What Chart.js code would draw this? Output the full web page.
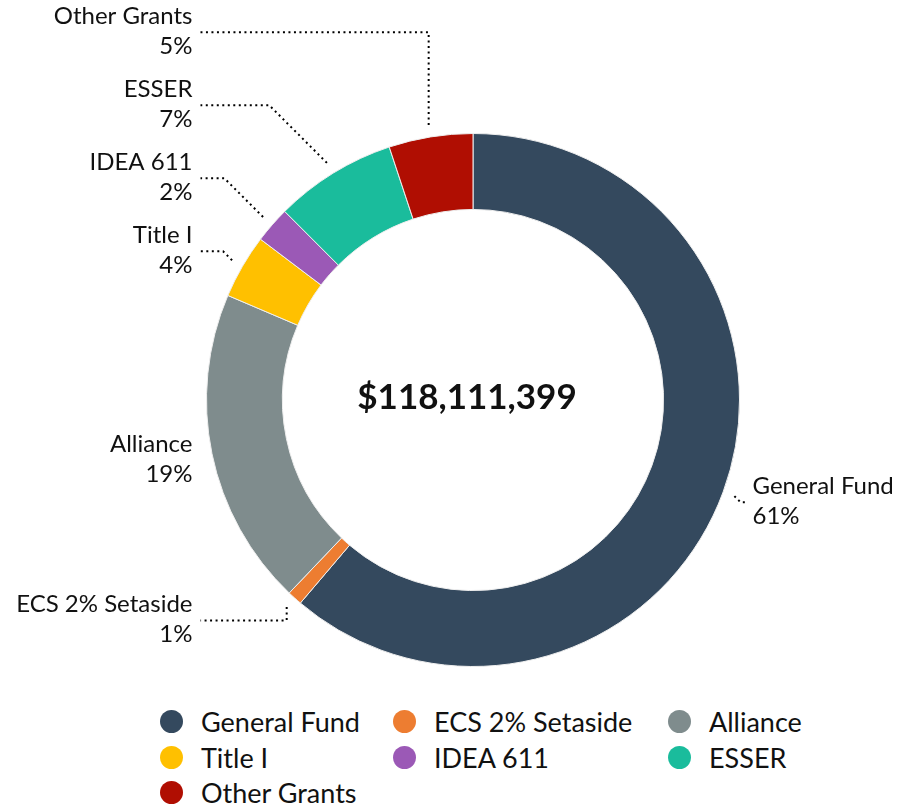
<!DOCTYPE html>
<html>
<head>
<meta charset="utf-8">
<script src="https://cdn.jsdelivr.net/npm/chart.js@4.4.0/dist/chart.umd.min.js"></script>
<style>
  body { margin: 0; background: #fff; font-family: Lato, sans-serif; }
  #wrap { position: relative; width: 899px; height: 690px; }
  #legend { position: absolute; left: 160px; top: 704px; display: grid; grid-template-columns: 233px 275px auto; }
  .item { display: flex; align-items: center; height: 35.5px; font-size: 27px; color: #111; white-space: nowrap; }
  .dot { width: 23px; height: 23px; border-radius: 50%; margin-right: 18px; flex: none; }
</style>
</head>
<body>
<div id="wrap"><canvas id="myChart"></canvas></div>
<div id="legend"></div>
<script>
var labels = ['General Fund', 'ECS 2% Setaside', 'Alliance', 'Title I', 'IDEA 611', 'ESSER', 'Other Grants'];
var amounts = [72301399, 1060000, 22800000, 4600000, 2600000, 8740000, 6010000];
var colors = ['#34495e', '#ed7d31', '#7f8c8d', '#ffc000', '#9b59b6', '#1abc9c', '#b00e02'];

var total = amounts.reduce(function(a, b) { return a + b; }, 0);

// legend as a grid so the columns line up
var legendBox = document.getElementById('legend');
labels.forEach(function(name, i) {
  var item = document.createElement('div');
  item.className = 'item';
  item.innerHTML = '<span class="dot" style="background:' + colors[i] + '"></span>' + name;
  legendBox.appendChild(item);
});

var centerText = {
  id: 'centerText',
  afterDraw: function(chart) {
    var arc = chart.getDatasetMeta(0).data[0];
    var ctx = chart.ctx;
    ctx.save();
    ctx.font = 'bold 35px Lato';
    ctx.fillStyle = '#111';
    ctx.textAlign = 'center';
    ctx.textBaseline = 'middle';
    ctx.fillText('$' + total.toLocaleString('en-US'), arc.x - 6, arc.y - 2);
    ctx.restore();
  }
};

// outside labels with dotted leader lines
var outsideLabels = {
  id: 'outsideLabels',
  afterDatasetsDraw: function(chart) {
    var meta = chart.getDatasetMeta(0);
    var ctx = chart.ctx;
    var items = [];
    meta.data.forEach(function(arc, i) {
      var mid = (arc.startAngle + arc.endAngle) / 2;
      var R = arc.outerRadius;
      items.push({
        i: i,
        left: Math.cos(mid) < 0,
        sx: arc.x + Math.cos(mid) * (R + 12),
        sy: arc.y + Math.sin(mid) * (R + 12),
        y: arc.y + Math.sin(mid) * (R + 30),
        cx: arc.x,
        cy: arc.y,
        R: R
      });
    });

    // push left labels apart, working from the bottom up
    var gap = 73;
    var left = items.filter(function(d) { return d.left; }).sort(function(a, b) { return b.y - a.y; });
    var prev = null;
    left.forEach(function(d) {
      if (prev !== null && d.y > prev - gap) d.y = prev - gap;
      prev = d.y;
    });

    ctx.save();
    items.forEach(function(d) {
      var endX = d.left ? d.cx - d.R - 6 : d.cx + d.R + 6;
      var dy = Math.abs(d.y - d.sy);
      var bendX = (dy > 60 || (d.left && d.sy > d.cy && dy < 15)) ? d.sx : d.sx + (d.left ? -dy : dy);
      var lineLen = dy + Math.abs(bendX - endX);
      if (Math.abs(d.sx - endX) > 4 && lineLen > 5) {
        ctx.beginPath();
        ctx.setLineDash([2, 3.5]);
        ctx.lineWidth = 2;
        ctx.strokeStyle = '#000';
        ctx.moveTo(d.sx, d.sy);
        ctx.lineTo(bendX, d.y);
        if ((d.left && bendX > endX) || (!d.left && bendX < endX)) ctx.lineTo(endX, d.y);
        ctx.stroke();
      }

      var pct = Math.round(amounts[d.i] / total * 100) + '%';
      var tx = d.left ? d.cx - d.R - 14 : d.cx + d.R + 13;
      ctx.setLineDash([]);
      ctx.font = '24px Lato';
      ctx.fillStyle = '#111';
      ctx.textAlign = d.left ? 'right' : 'left';
      ctx.textBaseline = 'middle';
      ctx.fillText(labels[d.i], tx, d.y - 16);
      ctx.fillText(pct, tx, d.y + 14);
    });
    ctx.restore();
  }
};

var ctx = document.getElementById('myChart').getContext('2d');
var myChart = new Chart(ctx, {
  type: 'doughnut',
  data: {
    labels: labels,
    datasets: [{
      data: amounts,
      backgroundColor: colors,
      borderColor: '#eeeeee',
      borderWidth: 1
    }]
  },
  options: {
    responsive: true,
    maintainAspectRatio: false,
    animation: false,
    cutout: '71.5%',
    layout: { padding: { left: 206, right: 159, top: 133, bottom: 23 } },
    plugins: {
      legend: { display: false },
      tooltip: { enabled: false }
    }
  },
  plugins: [centerText, outsideLabels]
});
</script>
</body>
</html>
